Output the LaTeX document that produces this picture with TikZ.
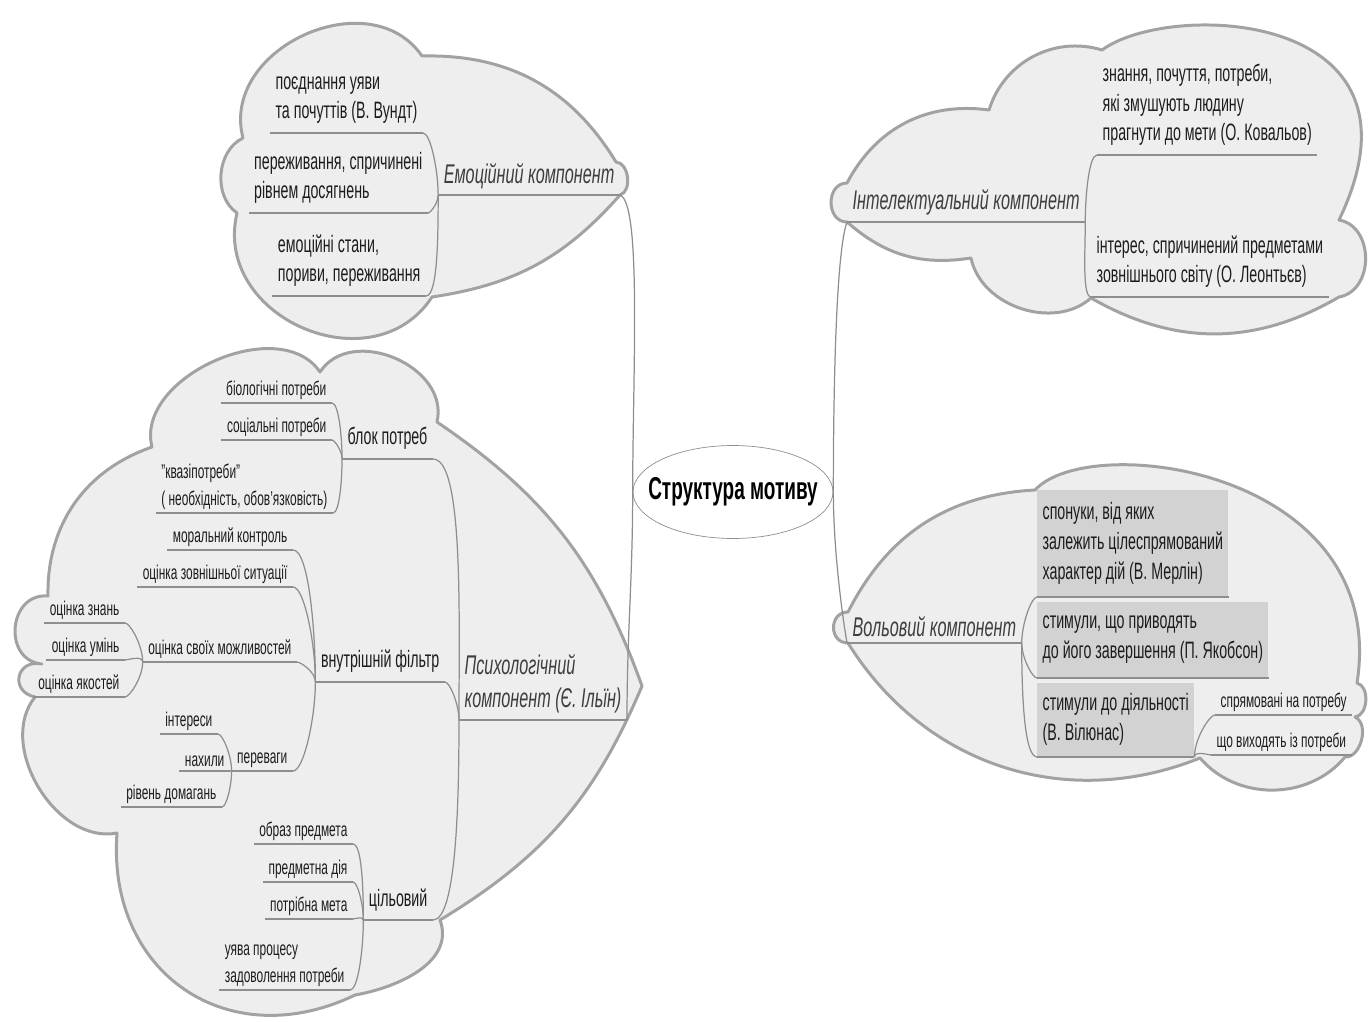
\documentclass[tikz,border=0pt]{standalone}
\usepackage{fontspec}
\setmainfont[FakeStretch=0.6]{Liberation Sans}
\usetikzlibrary{shapes.geometric}

\definecolor{cloudfill}{HTML}{EEEEEE}
\definecolor{cloudline}{HTML}{A2A2A2}
\definecolor{linkgray}{HTML}{8E8E8E}
\definecolor{boxgray}{HTML}{D2D2D2}
\definecolor{textcol}{HTML}{1C1C1C}

\newcommand{\rootfont}{\fontsize{18}{20}\selectfont\bfseries}
\newcommand{\compfont}{\fontsize{15.4}{19.3}\selectfont\itshape}
\newcommand{\topicfont}{\fontsize{13.5}{17}\selectfont}
\newcommand{\leaffont}{\fontsize{11.3}{15.3}\selectfont}

\tikzstyle{cloudarea} = [draw=cloudline, fill=cloudfill, line width=1.7pt, line join=round]
\tikzstyle{root} = [ellipse, draw=linkgray, fill=white, minimum width=4cm, minimum height=1.86cm, inner sep=0pt, font=\rootfont, text=black]
\tikzstyle{uline} = [draw=linkgray, line width=0.9pt]
\tikzstyle{underlined} = [append after command={(\tikzlastnode.south west) edge[uline] (\tikzlastnode.south east)}]
\tikzstyle{comp} = [font=\compfont, text=textcol!85, align=left, inner xsep=3pt, inner ysep=3.5pt, underlined]
\tikzstyle{topic} = [font=\topicfont, text=textcol, align=left, inner xsep=3pt, inner ysep=5pt, underlined]
\tikzstyle{leaf} = [font=\leaffont, text=textcol, align=left, inner xsep=3pt, inner ysep=2pt, underlined]
\tikzstyle{greybox} = [topic, fill=boxgray, inner ysep=0pt]
\tikzstyle{link} = [draw=linkgray, line width=0.7pt]
\tikzstyle{lup} = [out=90, in=0, in looseness=0.3]
\tikzstyle{ldn} = [out=-90, in=0, in looseness=0.3]
\tikzstyle{rup} = [out=90, in=180, in looseness=0.3]
\tikzstyle{rdn} = [out=-90, in=180, in looseness=0.3]

\begin{document}
\begin{tikzpicture}[x=0.02cm, y=-0.02cm]
\useasboundingbox (0,0) rectangle (1371,1021);

% clouds
\draw[cloudarea] (243,138) to[bend left=80, looseness=1.2] (422,56) to[bend left=30] (616,162)
  to[bend left=80] (620,195) to[bend left=20] (432,297) to[bend left=80, looseness=1.3] (237,213)
  to[bend left=60] (243,138) -- cycle;
\draw[cloudarea] (847,183) to[bend left=35] (989,110) to[bend left=45] (1102,50)
  .. controls (1170,0) and (1440,10) .. (1339,220) to[bend left=80, looseness=1.2] (1339,297)
  to[bend left=30] (1091,298) to[bend left=60] (971,258) to[bend left=25] (847,222)
  to[bend left=90, looseness=1.4] (847,183) -- cycle;
\draw[cloudarea] (848,612) to[bend left=30] (1035,490) .. controls (1090,430) and (1390,470) .. (1357,683)
  to[bend left=80] (1355,717) to[bend left=80] (1345,757) to[bend left=50] (1200,758)
  to[bend left=40] (848,643) to[bend left=90, looseness=1.6] (848,612) -- cycle;
\draw[cloudarea] (48,596) to[bend left=36] (152,447) to[bend left=80] (320,372)
  to[bend left=80, looseness=1.15] (437,422) to[bend left=18] (642,686) to[bend left=18] (440,920)
  to[out=-70, in=10] (355,995) to[bend left=60, looseness=1.25] (117,833) to[bend left=70] (35,697)
  to[bend left=90, looseness=2] (42,664) to[bend left=90, looseness=1.5] (48,596) -- cycle;

\node (cm) [root] at (733,492) {\makebox[0pt]{Структура мотиву}};

% emotional
\node (emo) [comp, anchor=south east] at (620,195) {Емоційний компонент};
\node (em1) [topic, anchor=south east] at (423,133) {поєднання уяви\\та почуттів (В. Вундт)};
\node (em2) [topic, anchor=south east] at (428,213) {переживання, спричинені\\рівнем досягнень};
\node (em3) [topic, anchor=south east] at (426,296) {емоційні стани,\\пориви, переживання};

% intellectual
\node (int) [comp, anchor=south west] at (847,222) {Інтелектуальний компонент};
\node (in1) [topic, anchor=south west] at (1097,155) {знання, почуття, потреби,\\які змушують людину\\прагнути до мети (О. Ковальов)};
\node (in2) [topic, anchor=south west] at (1091,297) {інтерес, спричинений предметами\\зовнішнього світу (О. Леонтьєв)};

% volitional
\node (vol) [comp, anchor=south west] at (847,643) {Вольовий компонент};
\node (vb1) [greybox, anchor=south west, minimum height=2.14cm] at (1037,597) {спонуки, від яких\\залежить цілеспрямований\\характер дій (В. Мерлін)};
\node (vb2) [greybox, anchor=south west, minimum height=1.52cm] at (1037,678) {стимули, що приводять\\до його завершення (П. Якобсон)};
\node (vb3) [greybox, anchor=south west, minimum height=1.48cm] at (1037,757) {стимули до діяльності\\(В. Вілюнас)};
\node (vs1) [leaf, anchor=south west] at (1215,715) {спрямовані на потребу};
\node (vs2) [leaf, anchor=south west] at (1211,755) {що виходять із потреби};

% psychological
\node (ps) [comp, anchor=south east] at (627,720) {Психологічний\\компонент (Є. Ільїн)};
\node (pb) [topic, anchor=south east] at (433,459) {блок потреб};
\node (pb1) [leaf, anchor=south east] at (332,403) {біологічні потреби};
\node (pb2) [leaf, anchor=south east] at (332,440) {соціальні потреби};
\node (pb3) [leaf, anchor=south east] at (333,513) {"квазіпотреби"\\( необхідність, обов'язковість)};
\node (pf) [topic, anchor=south east] at (445,682) {внутрішній фільтр};
\node (pf1) [leaf, anchor=south east] at (293,550) {моральний контроль};
\node (pf2) [leaf, anchor=south east] at (293,587) {оцінка зовнішньої ситуації};
\node (pf3) [leaf, anchor=south east] at (297,662) {оцінка своїх можливостей};
\node (pf31) [leaf, anchor=south east] at (125,623) {оцінка знань};
\node (pf32) [leaf, anchor=south east] at (125,660) {оцінка умінь};
\node (pf33) [leaf, anchor=south east] at (125,697) {оцінка якостей};
\node (pf4) [leaf, anchor=south east] at (293,771) {переваги};
\node (pf41) [leaf, anchor=south east] at (218,734) {інтереси};
\node (pf42) [leaf, anchor=south east] at (230,771) {нахили};
\node (pf43) [leaf, anchor=south east] at (222,807) {рівень домагань};
\node (pc) [topic, anchor=south east] at (433,920) {цільовий};
\node (pc1) [leaf, anchor=south east] at (353,844) {образ предмета};
\node (pc2) [leaf, anchor=south east] at (353,882) {предметна дія};
\node (pc3) [leaf, anchor=south east] at (353,919) {потрібна мета};
\node (pc4) [leaf, anchor=south east] at (350,990) {уява процесу\\задоволення потреби};

% links from the root
\draw[link] (cm.west) to[out=90, in=-20, in looseness=0.2] (emo.south east);
\draw[link] (cm.west) to[out=-90, in=90] (ps.south east);
\draw[link] (cm.east) to[out=90, in=-110, in looseness=0.3] (int.south west);
\draw[link] (cm.east) to[out=-90, in=100, in looseness=0.4] (vol.south west);

% emotional links
\draw[link, lup] (emo.south west) to (em1.south east);
\draw[link, ldn] (emo.south west) to (em2.south east);
\draw[link, ldn] (emo.south west) to (em3.south east);

% intellectual links
\draw[link, rup] (int.south east) to (in1.south west);
\draw[link, rdn] (int.south east) to (in2.south west);

% volitional links
\draw[link, rup] (vol.south east) to (vb1.south west);
\draw[link, rdn] (vol.south east) to (vb2.south west);
\draw[link, rdn] (vol.south east) to (vb3.south west);
\draw[link, rup] (vb3.south east) to (vs1.south west);
\draw[link, rup] (vb3.south east) to (vs2.south west);

% psychological links
\draw[link, lup] (ps.south west) to (pb.south east);
\draw[link, lup] (ps.south west) to (pf.south east);
\draw[link, ldn] (ps.south west) to (pc.south east);
\draw[link, lup] (pb.south west) to (pb1.south east);
\draw[link, lup] (pb.south west) to (pb2.south east);
\draw[link, ldn] (pb.south west) to (pb3.south east);
\draw[link, lup] (pf.south west) to (pf1.south east);
\draw[link, lup] (pf.south west) to (pf2.south east);
\draw[link, lup] (pf.south west) to (pf3.south east);
\draw[link, ldn] (pf.south west) to (pf4.south east);
\draw[link, lup] (pf3.south west) to (pf31.south east);
\draw[link, lup] (pf3.south west) to (pf32.south east);
\draw[link, ldn] (pf3.south west) to (pf33.south east);
\draw[link, lup] (pf4.south west) to (pf41.south east);
\draw[link, lup] (pf4.south west) to (pf42.south east);
\draw[link, ldn] (pf4.south west) to (pf43.south east);
\draw[link, lup] (pc.south west) to (pc1.south east);
\draw[link, lup] (pc.south west) to (pc2.south east);
\draw[link, lup] (pc.south west) to (pc3.south east);
\draw[link, ldn] (pc.south west) to (pc4.south east);
\end{tikzpicture}
\end{document}
